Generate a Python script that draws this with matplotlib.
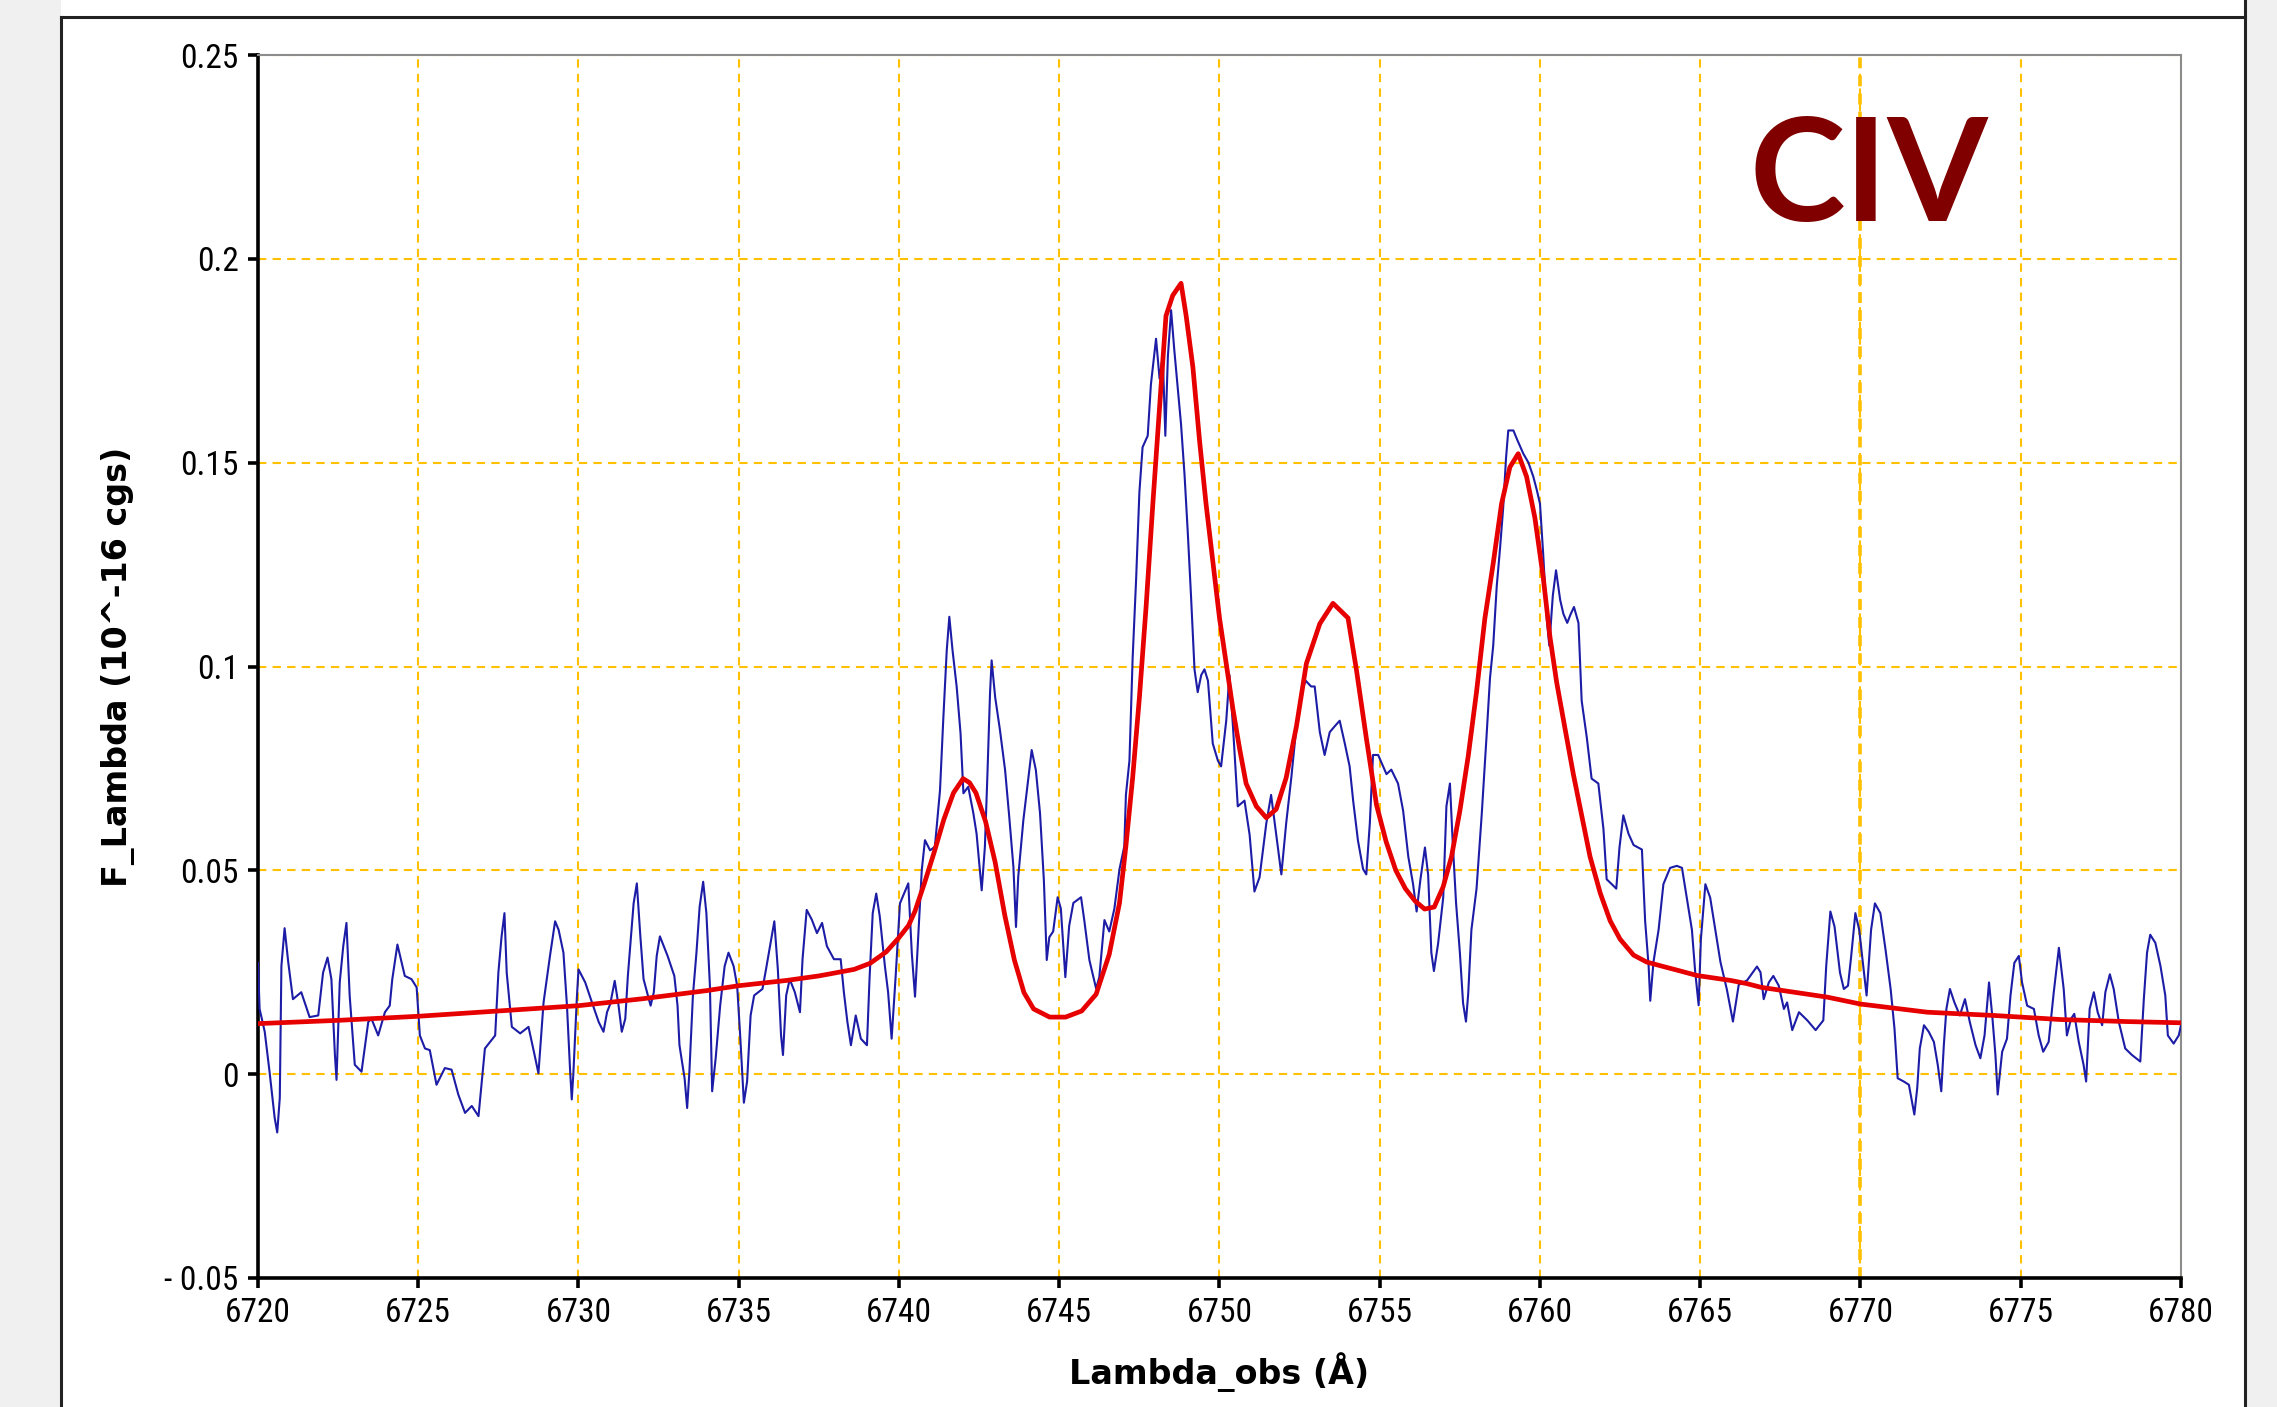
import matplotlib.pyplot as plt
from matplotlib import font_manager
from matplotlib.lines import Line2D
from matplotlib.patches import Rectangle

wl_obs = [
    6720.00, 6720.05, 6720.21, 6720.36, 6720.52, 6720.60, 6720.68, 6720.73, 6720.83, 6720.94,
    6721.09, 6721.35, 6721.61, 6721.88, 6722.03, 6722.17, 6722.29, 6722.40, 6722.45, 6722.55,
    6722.66, 6722.76, 6722.86, 6723.02, 6723.23, 6723.44, 6723.54, 6723.75, 6723.96, 6724.11,
    6724.19, 6724.35, 6724.58, 6724.79, 6724.95, 6725.05, 6725.21, 6725.36, 6725.57, 6725.83,
    6726.04, 6726.25, 6726.46, 6726.67, 6726.88, 6727.08, 6727.40, 6727.50, 6727.60, 6727.69,
    6727.76, 6727.92, 6728.18, 6728.44, 6728.63, 6728.75, 6728.91, 6729.01, 6729.11, 6729.27,
    6729.38, 6729.53, 6729.64, 6729.74, 6729.79, 6729.84, 6729.95, 6730.00, 6730.21, 6730.42,
    6730.63, 6730.78, 6730.89, 6730.99, 6731.13, 6731.25, 6731.35, 6731.46, 6731.54, 6731.72,
    6731.82, 6731.93, 6732.03, 6732.14, 6732.25, 6732.35, 6732.44, 6732.54, 6732.78, 6732.99,
    6733.09, 6733.15, 6733.31, 6733.39, 6733.46, 6733.57, 6733.68, 6733.78, 6733.89, 6733.99,
    6734.10, 6734.17, 6734.28, 6734.42, 6734.56, 6734.68, 6734.84, 6734.95, 6735.05, 6735.16,
    6735.26, 6735.37, 6735.48, 6735.74, 6735.85, 6736.01, 6736.11, 6736.22, 6736.32, 6736.38,
    6736.48, 6736.59, 6736.75, 6736.91, 6736.99, 6737.12, 6737.28, 6737.44, 6737.60, 6737.75,
    6737.97, 6738.18, 6738.28, 6738.39, 6738.50, 6738.65, 6738.81, 6739.00, 6739.08, 6739.18,
    6739.29, 6739.40, 6739.56, 6739.66, 6739.77, 6739.89, 6740.03, 6740.29, 6740.40, 6740.50,
    6740.60, 6740.71, 6740.81, 6740.97, 6741.12, 6741.28, 6741.38, 6741.49, 6741.57, 6741.67,
    6741.80, 6741.92, 6742.01, 6742.16, 6742.32, 6742.42, 6742.58, 6742.68, 6742.76, 6742.84,
    6742.89, 6743.00, 6743.15, 6743.31, 6743.44, 6743.57, 6743.65, 6743.72, 6743.88, 6744.03,
    6744.14, 6744.27, 6744.40, 6744.52, 6744.61, 6744.69, 6744.81, 6744.95, 6745.05, 6745.19,
    6745.31, 6745.44, 6745.68, 6745.78, 6745.94, 6746.15, 6746.25, 6746.41, 6746.56, 6746.72,
    6746.88, 6747.03, 6747.08, 6747.19, 6747.29, 6747.40, 6747.50, 6747.60, 6747.76, 6747.86,
    6748.02, 6748.13, 6748.23, 6748.31, 6748.39, 6748.49, 6748.59, 6748.80, 6748.91, 6749.01,
    6749.11, 6749.22, 6749.32, 6749.43, 6749.53, 6749.64, 6749.79, 6749.95, 6750.05, 6750.21,
    6750.31, 6750.42, 6750.57, 6750.78, 6750.94, 6751.09, 6751.25, 6751.46, 6751.61, 6751.77,
    6751.93, 6752.08, 6752.24, 6752.40, 6752.55, 6752.69, 6752.86, 6752.97, 6753.13, 6753.28,
    6753.44, 6753.59, 6753.75, 6753.91, 6754.06, 6754.17, 6754.32, 6754.48, 6754.58, 6754.69,
    6754.79, 6754.95, 6755.21, 6755.36, 6755.57, 6755.73, 6755.89, 6756.04, 6756.15, 6756.27,
    6756.41, 6756.51, 6756.61, 6756.69, 6756.82, 6756.98, 6757.08, 6757.19, 6757.27, 6757.38,
    6757.50, 6757.60, 6757.69, 6757.76, 6757.86, 6758.02, 6758.18, 6758.33, 6758.44, 6758.54,
    6758.65, 6758.75, 6758.85, 6758.94, 6759.01, 6759.17, 6759.29, 6759.48, 6759.64, 6759.79,
    6759.90, 6760.00, 6760.10, 6760.21, 6760.29, 6760.40, 6760.50, 6760.63, 6760.73, 6760.85,
    6760.96, 6761.06, 6761.20, 6761.30, 6761.46, 6761.61, 6761.82, 6761.98, 6762.08, 6762.24,
    6762.38, 6762.48, 6762.60, 6762.76, 6762.92, 6763.18, 6763.28, 6763.39, 6763.44, 6763.54,
    6763.70, 6763.85, 6764.06, 6764.27, 6764.43, 6764.58, 6764.74, 6764.84, 6764.95, 6765.02,
    6765.16, 6765.31, 6765.47, 6765.63, 6765.83, 6766.02, 6766.20, 6766.46, 6766.77, 6766.88,
    6766.98, 6767.14, 6767.28, 6767.45, 6767.61, 6767.71, 6767.87, 6768.08, 6768.34, 6768.60,
    6768.84, 6768.93, 6769.06, 6769.19, 6769.36, 6769.48, 6769.61, 6769.71, 6769.84, 6769.96,
    6770.05, 6770.19, 6770.33, 6770.45, 6770.62, 6770.78, 6770.94, 6771.06, 6771.16, 6771.35,
    6771.51, 6771.68, 6771.77, 6771.85, 6771.98, 6772.13, 6772.29, 6772.41, 6772.52, 6772.60,
    6772.68, 6772.79, 6772.93, 6773.10, 6773.26, 6773.41, 6773.59, 6773.74, 6773.87, 6774.01,
    6774.11, 6774.21, 6774.28, 6774.42, 6774.57, 6774.68, 6774.80, 6774.94, 6775.04, 6775.20,
    6775.41, 6775.56, 6775.70, 6775.87, 6776.03, 6776.19, 6776.34, 6776.44, 6776.57, 6776.67,
    6776.81, 6776.96, 6777.04, 6777.15, 6777.28, 6777.40, 6777.54, 6777.64, 6777.78, 6777.90,
    6778.06, 6778.26, 6778.47, 6778.73, 6778.84, 6778.94, 6779.04, 6779.20, 6779.36, 6779.51,
    6779.59, 6779.77, 6779.93, 6780.00,
]
flux_obs = [
    0.0273, 0.0160, 0.0104, 0.0006, -0.0107, -0.0143, -0.0058, 0.0265, 0.0358, 0.0277,
    0.0184, 0.0201, 0.0140, 0.0144, 0.0249, 0.0286, 0.0233, 0.0047, -0.0014, 0.0225,
    0.0314, 0.0371, 0.0193, 0.0023, 0.0006, 0.0128, 0.0136, 0.0095, 0.0152, 0.0168,
    0.0233, 0.0318, 0.0241, 0.0233, 0.0213, 0.0095, 0.0063, 0.0059, -0.0026, 0.0015,
    0.0011, -0.0050, -0.0095, -0.0078, -0.0103, 0.0063, 0.0095, 0.0249, 0.0338, 0.0395,
    0.0249, 0.0116, 0.0100, 0.0116, 0.0047, 0.0002, 0.0176, 0.0233, 0.0290, 0.0375,
    0.0354, 0.0298, 0.0168, 0.0006, -0.0062, 0.0002, 0.0189, 0.0257, 0.0225, 0.0176,
    0.0128, 0.0104, 0.0152, 0.0172, 0.0229, 0.0168, 0.0104, 0.0136, 0.0241, 0.0419,
    0.0468, 0.0338, 0.0233, 0.0201, 0.0168, 0.0201, 0.0290, 0.0338, 0.0290, 0.0241,
    0.0168, 0.0071, -0.0010, -0.0083, 0.0006, 0.0193, 0.0298, 0.0411, 0.0472, 0.0395,
    0.0217, -0.0042, 0.0039, 0.0168, 0.0265, 0.0298, 0.0265, 0.0217, 0.0087, -0.0070,
    -0.0018, 0.0144, 0.0193, 0.0209, 0.0257, 0.0330, 0.0375, 0.0257, 0.0095, 0.0047,
    0.0193, 0.0233, 0.0201, 0.0152, 0.0282, 0.0403, 0.0379, 0.0346, 0.0371, 0.0314,
    0.0282, 0.0282, 0.0201, 0.0128, 0.0071, 0.0144, 0.0087, 0.0071, 0.0233, 0.0395,
    0.0443, 0.0387, 0.0265, 0.0201, 0.0087, 0.0233, 0.0419, 0.0468, 0.0296, 0.0190,
    0.0337, 0.0500, 0.0574, 0.0549, 0.0558, 0.0697, 0.0868, 0.1040, 0.1122, 0.1040,
    0.0950, 0.0836, 0.0689, 0.0705, 0.0640, 0.0590, 0.0451, 0.0558, 0.0738, 0.0934,
    0.1015, 0.0925, 0.0844, 0.0746, 0.0631, 0.0508, 0.0361, 0.0484, 0.0623, 0.0721,
    0.0795, 0.0746, 0.0640, 0.0476, 0.0280, 0.0336, 0.0350, 0.0434, 0.0406, 0.0238,
    0.0364, 0.0420, 0.0434, 0.0378, 0.0280, 0.0210, 0.0238, 0.0378, 0.0350, 0.0406,
    0.0503, 0.0559, 0.0685, 0.0769, 0.1021, 0.1217, 0.1427, 0.1538, 0.1566, 0.1692,
    0.1804, 0.1706, 0.1762, 0.1566, 0.1762, 0.1874, 0.1776, 0.1594, 0.1469, 0.1329,
    0.1175, 0.0993, 0.0937, 0.0979, 0.0993, 0.0965, 0.0811, 0.0769, 0.0755, 0.0867,
    0.0979, 0.0853, 0.0657, 0.0671, 0.0587, 0.0448, 0.0483, 0.0615, 0.0685, 0.0587,
    0.0490, 0.0615, 0.0727, 0.0853, 0.0937, 0.0965, 0.0951, 0.0951, 0.0839, 0.0783,
    0.0839, 0.0853, 0.0867, 0.0811, 0.0755, 0.0671, 0.0573, 0.0503, 0.0490, 0.0615,
    0.0783, 0.0783, 0.0736, 0.0747, 0.0713, 0.0646, 0.0534, 0.0466, 0.0399, 0.0478,
    0.0556, 0.0489, 0.0298, 0.0253, 0.0320, 0.0433, 0.0657, 0.0713, 0.0579, 0.0421,
    0.0298, 0.0174, 0.0129, 0.0197, 0.0354, 0.0455, 0.0635, 0.0826, 0.0972, 0.1051,
    0.1197, 0.1287, 0.1388, 0.1511, 0.1579, 0.1579, 0.1556, 0.1522, 0.1500, 0.1466,
    0.1433, 0.1399, 0.1275, 0.1118, 0.1051, 0.1174, 0.1236, 0.1163, 0.1129, 0.1107,
    0.1129, 0.1146, 0.1107, 0.0916, 0.0826, 0.0725, 0.0713, 0.0601, 0.0478, 0.0466,
    0.0455, 0.0556, 0.0635, 0.0590, 0.0562, 0.0551, 0.0376, 0.0264, 0.0180, 0.0275,
    0.0354, 0.0466, 0.0506, 0.0511, 0.0506, 0.0433, 0.0354, 0.0253, 0.0169, 0.0331,
    0.0466, 0.0433, 0.0354, 0.0275, 0.0208, 0.0129, 0.0219, 0.0230, 0.0264, 0.0250,
    0.0184, 0.0225, 0.0241, 0.0217, 0.0160, 0.0176, 0.0108, 0.0152, 0.0132, 0.0108,
    0.0132, 0.0265, 0.0399, 0.0362, 0.0249, 0.0209, 0.0217, 0.0290, 0.0395, 0.0354,
    0.0290, 0.0193, 0.0354, 0.0419, 0.0395, 0.0306, 0.0209, 0.0112, -0.0010, -0.0018,
    -0.0026, -0.0099, -0.0034, 0.0063, 0.0120, 0.0104, 0.0079, 0.0023, -0.0042, 0.0071,
    0.0160, 0.0209, 0.0176, 0.0144, 0.0184, 0.0128, 0.0071, 0.0039, 0.0095, 0.0225,
    0.0144, 0.0047, -0.0050, 0.0055, 0.0087, 0.0193, 0.0273, 0.0290, 0.0225, 0.0168,
    0.0160, 0.0095, 0.0055, 0.0079, 0.0201, 0.0310, 0.0209, 0.0095, 0.0136, 0.0148,
    0.0079, 0.0023, -0.0018, 0.0160, 0.0201, 0.0152, 0.0120, 0.0201, 0.0245, 0.0209,
    0.0128, 0.0063, 0.0047, 0.0031, 0.0184, 0.0298, 0.0342, 0.0322, 0.0265, 0.0193,
    0.0095, 0.0075, 0.0095, 0.0120,
]

# model fit (red)
wl_fit = [
    6720.0, 6722.5, 6725.0, 6727.5, 6730.0, 6732.0, 6734.0, 6735.0, 6736.5, 6737.5,
    6738.6, 6739.1, 6739.6, 6740.0, 6740.3, 6740.5, 6740.8, 6741.1, 6741.4, 6741.7,
    6742.0, 6742.2, 6742.4, 6742.7, 6743.0, 6743.3, 6743.6, 6743.9, 6744.2, 6744.7,
    6745.2, 6745.7, 6746.15, 6746.56, 6746.88, 6747.08, 6747.29, 6747.5, 6747.71, 6747.92,
    6748.13, 6748.33, 6748.54, 6748.8, 6748.96, 6749.17, 6749.38, 6749.58, 6749.79, 6750.0,
    6750.21, 6750.42, 6750.63, 6750.83, 6751.15, 6751.46, 6751.77, 6752.08, 6752.4, 6752.71,
    6753.13, 6753.54, 6754.01, 6754.27, 6754.58, 6754.9, 6755.2, 6755.5, 6755.8, 6756.1,
    6756.4, 6756.7, 6756.98, 6757.24, 6757.5, 6757.76, 6758.02, 6758.28, 6758.54, 6758.8,
    6759.06, 6759.32, 6759.58, 6759.84, 6760.1, 6760.31, 6760.52, 6760.78, 6761.04, 6761.3,
    6761.56, 6761.88, 6762.19, 6762.5, 6762.92, 6763.33, 6763.85, 6764.38, 6764.9, 6765.42,
    6765.94, 6766.46, 6766.9, 6768.96, 6770.0, 6772.08, 6774.16, 6776.24, 6778.32, 6780.0,
]
flux_fit = [
    0.0124, 0.0132, 0.0142, 0.0155, 0.0168, 0.0185, 0.0205, 0.0217, 0.0230, 0.0241,
    0.0257, 0.0272, 0.0300, 0.0335, 0.0365, 0.0400, 0.0470, 0.0545, 0.0625, 0.0690,
    0.0725, 0.0715, 0.0690, 0.0620, 0.0520, 0.0390, 0.0280, 0.0200, 0.0160, 0.0140,
    0.0140, 0.0155, 0.0196, 0.0294, 0.0420, 0.0560, 0.0727, 0.0923, 0.1147, 0.1399,
    0.1636, 0.1860, 0.1910, 0.1940, 0.1860, 0.1734, 0.1552, 0.1399, 0.1259, 0.1119,
    0.1007, 0.0895, 0.0797, 0.0713, 0.0657, 0.0629, 0.0650, 0.0727, 0.0853, 0.1007,
    0.1105, 0.1155, 0.1119, 0.0993, 0.0825, 0.0660, 0.0570, 0.0500, 0.0455, 0.0425,
    0.0405, 0.0410, 0.0460, 0.0534, 0.0646, 0.0780, 0.0938, 0.1118, 0.1253, 0.1399,
    0.1489, 0.1522, 0.1466, 0.1365, 0.1219, 0.1073, 0.0961, 0.0848, 0.0736, 0.0635,
    0.0534, 0.0444, 0.0376, 0.0331, 0.0292, 0.0275, 0.0264, 0.0253, 0.0242, 0.0236,
    0.0230, 0.0222, 0.0213, 0.0189, 0.0172, 0.0152, 0.0144, 0.0134, 0.0129, 0.0126,
]

xticks = [6720, 6725, 6730, 6735, 6740, 6745, 6750, 6755, 6760, 6765, 6770, 6775, 6780]
yticks = [-0.05, 0, 0.05, 0.1, 0.15, 0.2, 0.25]
ytick_labels = ['- 0.05', '0', '0.05', '0.1', '0.15', '0.2', '0.25']

# narrow font for the tick numbers, whichever is installed
installed = {f.name for f in font_manager.fontManager.ttflist}
tick_font = 'DejaVu Sans'
for name in ['Liberation Sans Narrow', 'Roboto Condensed', 'Open Sans Condensed', 'Roboto']:
    if name in installed:
        tick_font = name
        break
plt.rcParams['font.family'] = [tick_font, 'DejaVu Sans']

W, H = 2277, 1407
fig = plt.figure(figsize=(W / 100, H / 100), dpi=100)
fig.patch.set_facecolor('white')

# grey page margins and the black frame around the chart
fig.add_artist(Rectangle((0, 0), 61 / W, 1, transform=fig.transFigure,
                         facecolor='#f0f0f0', edgecolor='none', zorder=0))
fig.add_artist(Rectangle((2245 / W, 0), 1 - 2245 / W, 1, transform=fig.transFigure,
                         facecolor='#f0f0f0', edgecolor='none', zorder=0))
fig.add_artist(Line2D([61 / W, 61 / W], [0, 1 - 17 / H], transform=fig.transFigure,
                      color='#222222', lw=2.2))
fig.add_artist(Line2D([61 / W, 2245 / W], [1 - 17 / H, 1 - 17 / H], transform=fig.transFigure,
                      color='#222222', lw=2.2))
fig.add_artist(Line2D([2245 / W, 2245 / W], [0, 1], transform=fig.transFigure,
                      color='#222222', lw=2.2))

ax = fig.add_axes([258 / W, 1 - 1278 / H, (2181 - 258) / W, (1278 - 55) / H])
ax.set_facecolor('white')

ax.plot(wl_obs, flux_obs, color='#1c1ca6', lw=1.5, zorder=3)
ax.plot(wl_fit, flux_fit, color='#e60000', lw=3.4, zorder=4)

ax.set_xlim(6720, 6780)
ax.set_ylim(-0.05, 0.25)
ax.set_xticks(xticks)
ax.set_xticklabels([str(t) for t in xticks])
ax.set_yticks(yticks)
ax.set_yticklabels(ytick_labels)

ax.grid(True, color='#ffc000', linestyle=(0, (4, 3)), lw=1.5)
# the 6770 grid line is drawn heavier in the original
ax.axvline(6770, color='#ffc000', linestyle=(0, (3, 2)), lw=2.6, zorder=0.5)
ax.set_axisbelow(True)

for side in ['left', 'bottom']:
    ax.spines[side].set_color('black')
    ax.spines[side].set_linewidth(2.6)
for side in ['top', 'right']:
    ax.spines[side].set_color('#8c8c8c')
    ax.spines[side].set_linewidth(1.5)

ax.tick_params(direction='out', length=7, width=2.6, labelsize=24, pad=7, colors='black')

ax.set_xlabel('Lambda_obs (Å)', fontsize=24, fontweight='bold', family='DejaVu Sans')
ax.set_ylabel('F_Lambda (10^-16 cgs)', fontsize=24, fontweight='bold', family='DejaVu Sans')
ax.xaxis.set_label_coords(0.5, -0.061)
ax.yaxis.set_label_coords(-0.064, 0.5)

# line label in the top right corner
fig.text(1869 / W, 1 - 180 / H, 'CIV', color='#800000', fontsize=104,
         fontweight='bold', family='Lato', ha='center', va='center')

fig.savefig('out.png', dpi=100)
